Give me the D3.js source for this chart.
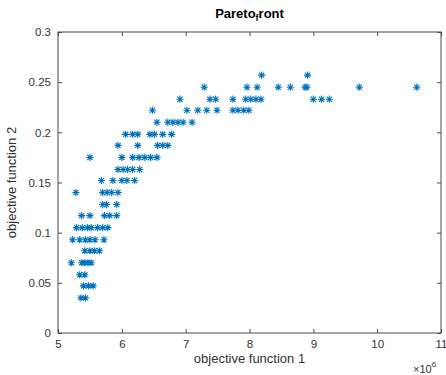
<!DOCTYPE html>
<html>
<head>
<meta charset="utf-8">
<script src="https://cdn.jsdelivr.net/npm/d3@7"></script>
<style>
  body { margin: 0; background: #fff; }
  svg { display: block; font-family: "Liberation Sans", Arial, sans-serif; }
</style>
</head>
<body>
<div id="chart"></div>
<script>
// objective function 2 levels (rows) and objective function 1 values (x 1e6) on each row
const levels = [0.035, 0.047, 0.058, 0.070, 0.082, 0.093, 0.105, 0.117, 0.128, 0.140,
                0.152, 0.163, 0.175, 0.187, 0.198, 0.210, 0.222, 0.233, 0.245, 0.257];
const row035 = [5.36, 5.43];
const row047 = [5.40, 5.48, 5.55];
const row058 = [5.34, 5.42];
const row070 = [5.21, 5.37, 5.42, 5.47, 5.52];
const row082 = [5.42, 5.50, 5.57, 5.65];
const row093 = [5.23, 5.34, 5.43, 5.50, 5.58, 5.72];
const row105 = [5.29, 5.38, 5.46, 5.52, 5.62, 5.70, 5.78];
const row117 = [5.37, 5.50, 5.73, 5.81, 5.92];
const row128 = [5.70, 5.76, 5.92];
const row140 = [5.28, 5.70, 5.77, 5.84, 5.94];
const row152 = [5.68, 5.86, 6.00, 6.08, 6.20];
const row163 = [5.94, 6.02, 6.09, 6.17, 6.28];
const row175 = [5.50, 6.00, 6.17, 6.27, 6.36, 6.45, 6.55];
const row187 = [5.94, 6.25, 6.56, 6.64, 6.72];
const row198 = [6.06, 6.17, 6.25, 6.44, 6.51, 6.64, 6.78];
const row210 = [6.55, 6.72, 6.80, 6.88, 6.96, 7.10];
const row222 = [6.48, 7.02, 7.19, 7.33, 7.49, 7.74, 7.82, 7.91, 7.99];
const row233 = [6.91, 7.38, 7.47, 7.74, 7.94, 8.02, 8.10, 8.18, 9.00, 9.13, 9.25];
const row245 = [7.29, 7.96, 8.12, 8.45, 8.64, 8.87, 8.90, 9.72, 10.62];
const row257 = [8.19, 8.91];
const rows = [row035, row047, row058, row070, row082, row093, row105, row117, row128, row140,
              row152, row163, row175, row187, row198, row210, row222, row233, row245, row257];

const xTicks = [5, 6, 7, 8, 9, 10, 11];
const yTicks = [0, 0.05, 0.1, 0.15, 0.2, 0.25, 0.3];

const points = [];
rows.forEach((r, i) => r.forEach(v => points.push({ x: v, y: levels[i] })));

const W = 446, H = 375;
const margin = { top: 32, right: 5, bottom: 42, left: 58 };
const width = W - margin.left - margin.right;
const height = H - margin.top - margin.bottom;
const axisColor = "#4a4a4a";

const svg = d3.select("#chart").append("svg")
  .attr("width", W).attr("height", H);

const g = svg.append("g").attr("transform", `translate(${margin.left},${margin.top})`);

const x = d3.scaleLinear().domain([5, 11]).range([0, width]);
const y = d3.scaleLinear().domain([0, 0.3]).range([height, 0]);

// box
g.append("rect")
  .attr("width", width).attr("height", height)
  .attr("fill", "none").attr("stroke", axisColor).attr("stroke-width", 1);

// inward ticks on all four sides
const styleAxis = sel => {
  sel.select(".domain").remove();
  sel.selectAll("line").attr("stroke", axisColor);
  sel.selectAll("text").attr("fill", "#333").style("font-size", "11.5px");
};

g.append("g").attr("transform", `translate(0,${height})`)
  .call(d3.axisBottom(x).tickValues(xTicks).tickSize(-4).tickPadding(7).tickFormat(d3.format("d")))
  .call(styleAxis);
g.append("g")
  .call(d3.axisTop(x).tickValues(xTicks).tickSize(-4).tickFormat(() => ""))
  .call(styleAxis);
g.append("g")
  .call(d3.axisLeft(y).tickValues(yTicks).tickSize(-4).tickPadding(7).tickFormat(d => d === 0 ? "0" : String(+d.toFixed(2))))
  .call(styleAxis);
g.append("g").attr("transform", `translate(${width},0)`)
  .call(d3.axisRight(y).tickValues(yTicks).tickSize(-4).tickFormat(() => ""))
  .call(styleAxis);

// asterisk markers
const s = 3.6, a = s * 0.72;
const star = `M${-s},0H${s}M0,${-s}V${s}M${-a},${-a}L${a},${a}M${-a},${a}L${a},${-a}`;
g.selectAll("path.pt")
  .data(points)
  .join("path")
    .attr("class", "pt")
    .attr("transform", d => `translate(${x(d.x)},${y(d.y)})`)
    .attr("d", star)
    .attr("fill", "none")
    .attr("stroke", "#0072BD")
    .attr("stroke-width", 1.1);

// title with subscript
const title = svg.append("text")
  .attr("x", margin.left + width / 2).attr("y", 18)
  .attr("text-anchor", "middle")
  .style("font-size", "13px").style("font-weight", "bold").attr("fill", "#000");
title.append("tspan").text("Pareto");
title.append("tspan").attr("dy", 3).style("font-size", "9px").text("f");
title.append("tspan").attr("dy", -3).text("ront");

// axis labels
svg.append("text")
  .attr("x", margin.left + width / 2).attr("y", 363)
  .attr("text-anchor", "middle")
  .style("font-size", "13px").attr("fill", "#333")
  .text("objective function 1");

svg.append("text")
  .attr("transform", `translate(16,${margin.top + height / 2}) rotate(-90)`)
  .attr("text-anchor", "middle")
  .style("font-size", "13px").attr("fill", "#333")
  .text("objective function 2");

// exponent
const ex = svg.append("text")
  .attr("x", 413).attr("y", 373)
  .style("font-size", "11px").attr("fill", "#333");
ex.append("tspan").text("×10");
ex.append("tspan").attr("dy", -6).style("font-size", "8px").text("6");
</script>
</body>
</html>
